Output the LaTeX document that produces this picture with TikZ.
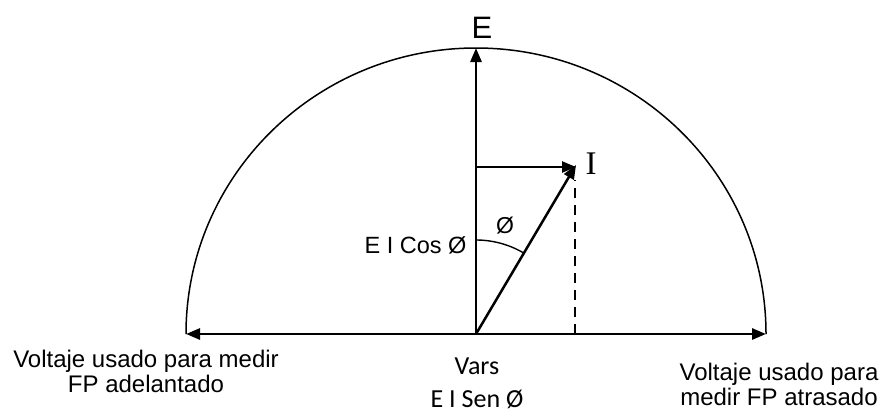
\documentclass[tikz,border=0pt]{standalone}
\usepackage{fontspec}
\setmainfont{Liberation Sans}
\newfontfamily\calfont{Carlito}
\newfontfamily\serfont{Liberation Serif}
\usepackage{tikz}
\usetikzlibrary{arrows.meta,positioning}

\begin{document}
\begin{tikzpicture}[x=1pt,y=-1pt,font=\fontsize{24}{25}\selectfont,
  axis/.style={line width=2.8pt,-{Triangle[length=14pt,width=11pt]}},
  phasor/.style={line width=2.5pt,-{Triangle[length=14pt,width=11pt]}}]
\useasboundingbox (0,0) rectangle (885,415);
\coordinate (o) at (476,334);
\coordinate (top) at (476,48);
\coordinate (lft) at (186,334);
\coordinate (rgt) at (766,334);
\coordinate (i) at (576,165);
\coordinate (ib) at (575,334);
\coordinate (ia) at (575,180);
\coordinate (hstart) at (476,167);
\coordinate (hend) at (576,167);
% semicircle
\draw[line width=1.5pt] (lft) arc[start angle=180,end angle=360,x radius=290,y radius=286];
% axes
\draw[axis] (o) -- (top);
\draw[axis] (o) -- (lft);
\draw[axis] (o) -- (rgt);
\draw[phasor] (hstart) -- (hend);
\draw[phasor] (o) -- (i);
\draw[line width=2.2pt,dash pattern=on 10pt off 7pt] (ib) -- (ia);
\draw[line width=1.4pt] (476,240) arc[start angle=-90,end angle=-59.4,radius=94];
% labels
\node (e) at (482,28) {\fontsize{31}{32}\selectfont E};
\node (ilab) at (591,164) {\serfont\fontsize{33}{34}\selectfont I};
\node (phi) at (505,226) {\fontsize{23}{24}\selectfont Ø};
\node[anchor=east] (cos) at (470,245) {\fontsize{23.5}{24}\selectfont E I Cos Ø};
\node[align=center] (left) at (146,371) {Voltaje usado para medir\\FP adelantado};
\node[align=center] (right) at (779,384) {Voltaje usado para\\medir FP atrasado};
\node (vars) at (477,366) {\calfont\fontsize{26}{28}\selectfont Vars};
\node (sen) at (477,399) {\calfont\fontsize{26}{28}\selectfont E I Sen Ø};
\end{tikzpicture}
\end{document}
